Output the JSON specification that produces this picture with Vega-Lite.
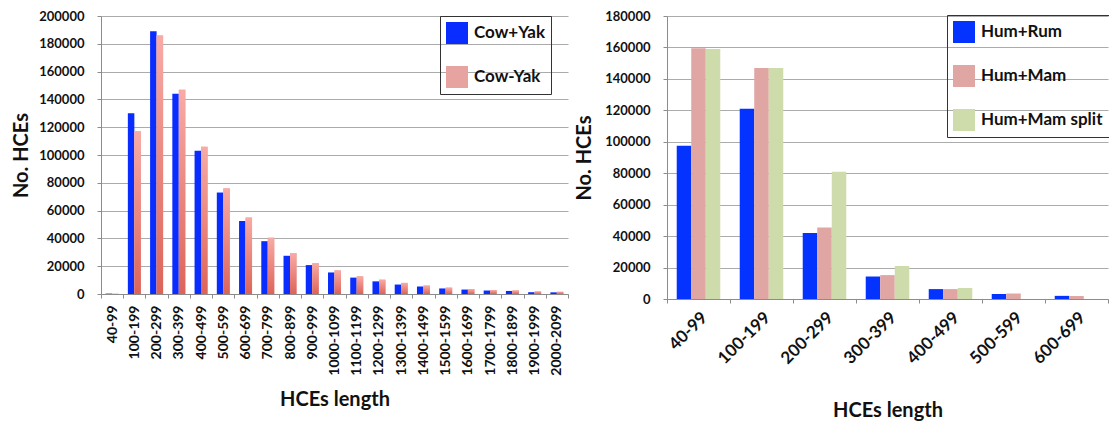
{
  "$schema": "https://vega.github.io/schema/vega-lite/v6.json",
  "background": "white",
  "padding": {"left": 11, "top": 10, "right": 0, "bottom": 0},
  "spacing": 5,
  "config": {
    "view": {"stroke": null},
    "font": "Lato",
    "axis": {
      "labelFont": "Lato",
      "labelFontWeight": "bold",
      "labelColor": "#111111",
      "titleFont": "Lato",
      "titleFontWeight": "bold",
      "titleFontSize": 20,
      "titleColor": "#111111",
      "domainColor": "#8c8c8c",
      "tickColor": "#8c8c8c",
      "gridColor": "#ababab",
      "tickSize": 4
    },
    "legend": {
      "symbolType": "square",
      "symbolSize": 484,
      "symbolStrokeWidth": 0,
      "labelFont": "Lato",
      "labelFontWeight": "bold",
      "labelFontSize": 17,
      "labelColor": "#111111",
      "strokeColor": "#333333",
      "padding": 6,
      "rowPadding": 22,
      "labelOffset": 6
    }
  },
  "datasets": {
    "cowyak": [
      {"len": "40-99", "series": "Cow+Yak", "n": 300},
      {"len": "40-99", "series": "Cow-Yak", "n": 200},
      {"len": "100-199", "series": "Cow+Yak", "n": 130000},
      {"len": "100-199", "series": "Cow-Yak", "n": 117000},
      {"len": "200-299", "series": "Cow+Yak", "n": 189000},
      {"len": "200-299", "series": "Cow-Yak", "n": 186000},
      {"len": "300-399", "series": "Cow+Yak", "n": 144000},
      {"len": "300-399", "series": "Cow-Yak", "n": 147000},
      {"len": "400-499", "series": "Cow+Yak", "n": 103000},
      {"len": "400-499", "series": "Cow-Yak", "n": 106000},
      {"len": "500-599", "series": "Cow+Yak", "n": 73000},
      {"len": "500-599", "series": "Cow-Yak", "n": 76000},
      {"len": "600-699", "series": "Cow+Yak", "n": 52500},
      {"len": "600-699", "series": "Cow-Yak", "n": 55000},
      {"len": "700-799", "series": "Cow+Yak", "n": 38000},
      {"len": "700-799", "series": "Cow-Yak", "n": 40500},
      {"len": "800-899", "series": "Cow+Yak", "n": 27500},
      {"len": "800-899", "series": "Cow-Yak", "n": 29500},
      {"len": "900-999", "series": "Cow+Yak", "n": 20800},
      {"len": "900-999", "series": "Cow-Yak", "n": 22200},
      {"len": "1000-1099", "series": "Cow+Yak", "n": 15500},
      {"len": "1000-1099", "series": "Cow-Yak", "n": 17000},
      {"len": "1100-1199", "series": "Cow+Yak", "n": 11800},
      {"len": "1100-1199", "series": "Cow-Yak", "n": 12700},
      {"len": "1200-1299", "series": "Cow+Yak", "n": 9100},
      {"len": "1200-1299", "series": "Cow-Yak", "n": 10300},
      {"len": "1300-1399", "series": "Cow+Yak", "n": 6800},
      {"len": "1300-1399", "series": "Cow-Yak", "n": 8000},
      {"len": "1400-1499", "series": "Cow+Yak", "n": 5400},
      {"len": "1400-1499", "series": "Cow-Yak", "n": 6100},
      {"len": "1500-1599", "series": "Cow+Yak", "n": 4000},
      {"len": "1500-1599", "series": "Cow-Yak", "n": 4600},
      {"len": "1600-1699", "series": "Cow+Yak", "n": 3200},
      {"len": "1600-1699", "series": "Cow-Yak", "n": 3600},
      {"len": "1700-1799", "series": "Cow+Yak", "n": 2500},
      {"len": "1700-1799", "series": "Cow-Yak", "n": 2900},
      {"len": "1800-1899", "series": "Cow+Yak", "n": 2200},
      {"len": "1800-1899", "series": "Cow-Yak", "n": 2600},
      {"len": "1900-1999", "series": "Cow+Yak", "n": 1300},
      {"len": "1900-1999", "series": "Cow-Yak", "n": 1900},
      {"len": "2000-2099", "series": "Cow+Yak", "n": 1200},
      {"len": "2000-2099", "series": "Cow-Yak", "n": 1600}
    ],
    "human": [
      {"len": "40-99", "series": "Hum+Rum", "n": 97500},
      {"len": "40-99", "series": "Hum+Mam", "n": 159500},
      {"len": "40-99", "series": "Hum+Mam split", "n": 159000},
      {"len": "100-199", "series": "Hum+Rum", "n": 121000},
      {"len": "100-199", "series": "Hum+Mam", "n": 147000},
      {"len": "100-199", "series": "Hum+Mam split", "n": 147000},
      {"len": "200-299", "series": "Hum+Rum", "n": 42000},
      {"len": "200-299", "series": "Hum+Mam", "n": 45500},
      {"len": "200-299", "series": "Hum+Mam split", "n": 81000},
      {"len": "300-399", "series": "Hum+Rum", "n": 14300},
      {"len": "300-399", "series": "Hum+Mam", "n": 15200},
      {"len": "300-399", "series": "Hum+Mam split", "n": 21000},
      {"len": "400-499", "series": "Hum+Rum", "n": 6300},
      {"len": "400-499", "series": "Hum+Mam", "n": 6300},
      {"len": "400-499", "series": "Hum+Mam split", "n": 7000},
      {"len": "500-599", "series": "Hum+Rum", "n": 3200},
      {"len": "500-599", "series": "Hum+Mam", "n": 3500},
      {"len": "600-699", "series": "Hum+Rum", "n": 2000},
      {"len": "600-699", "series": "Hum+Mam", "n": 1900}
    ]
  },
  "resolve": {
    "scale": {"x": "independent", "y": "independent", "xOffset": "independent", "color": "independent"},
    "legend": {"color": "independent"}
  },
  "hconcat": [
    {
      "width": 467,
      "height": 278,
      "data": {"name": "cowyak"},
      "encoding": {
        "x": {
          "field": "len", "type": "nominal", "sort": null,
          "scale": {"paddingInner": 0, "paddingOuter": 0},
          "axis": {
            "title": "HCEs length", "labelAngle": -90, "labelFontSize": 14,
            "tickBand": "extent", "grid": false, "labelPadding": 7, "titlePadding": 14
          }
        },
        "xOffset": {
          "field": "series", "type": "nominal", "sort": ["Cow+Yak", "Cow-Yak"],
          "scale": {"paddingInner": 0, "paddingOuter": 0.71}
        },
        "y": {
          "field": "n", "type": "quantitative",
          "scale": {"domain": [0, 200000], "nice": false},
          "axis": {
            "title": "No. HCEs", "format": "d", "labelFontSize": 13,
            "values": [0, 20000, 40000, 60000, 80000, 100000, 120000, 140000, 160000, 180000, 200000],
            "labelPadding": 13, "titlePadding": 7, "grid": true
          }
        }
      },
      "layer": [
        {
          "mark": {"type": "bar"},
          "encoding": {
            "color": {
              "field": "series", "type": "nominal",
              "scale": {"domain": ["Cow+Yak", "Cow-Yak"], "range": ["#0a2dff", "#e6a3a0"]},
              "legend": {"title": null, "orient": "none", "legendX": 339, "legendY": 0}
            }
          }
        },
        {
          "transform": [{"filter": "datum.series === 'Cow-Yak'"}],
          "mark": {
            "type": "bar",
            "fill": {
              "gradient": "linear", "x1": 0, "y1": 0, "x2": 0, "y2": 1,
              "stops": [
                {"offset": 0, "color": "#f8aba6"},
                {"offset": 1, "color": "#dc6459"}
              ]
            }
          }
        }
      ]
    },
    {
      "width": 441,
      "height": 283,
      "data": {"name": "human"},
      "mark": {"type": "bar"},
      "encoding": {
        "x": {
          "field": "len", "type": "nominal", "sort": null,
          "scale": {"paddingInner": 0, "paddingOuter": 0},
          "axis": {
            "title": "HCEs length", "labelAngle": -45, "labelFontSize": 17,
            "tickBand": "extent", "grid": false, "labelPadding": 6, "titlePadding": 34
          }
        },
        "xOffset": {
          "field": "series", "type": "nominal", "sort": ["Hum+Rum", "Hum+Mam", "Hum+Mam split"],
          "scale": {"domain": ["Hum+Rum", "Hum+Mam", "Hum+Mam split"], "paddingInner": 0, "paddingOuter": 0.67}
        },
        "y": {
          "field": "n", "type": "quantitative",
          "scale": {"domain": [0, 180000], "nice": false},
          "axis": {
            "title": "No. HCEs", "format": "d", "labelFontSize": 13,
            "values": [0, 20000, 40000, 60000, 80000, 100000, 120000, 140000, 160000, 180000],
            "labelPadding": 13, "titlePadding": 10, "grid": true
          }
        },
        "color": {
          "field": "series", "type": "nominal",
          "scale": {"domain": ["Hum+Rum", "Hum+Mam", "Hum+Mam split"], "range": ["#0432ff", "#e0a6a4", "#cedbaa"]},
          "legend": {"title": null, "orient": "none", "legendX": 280, "legendY": -1}
        }
      }
    }
  ]
}
